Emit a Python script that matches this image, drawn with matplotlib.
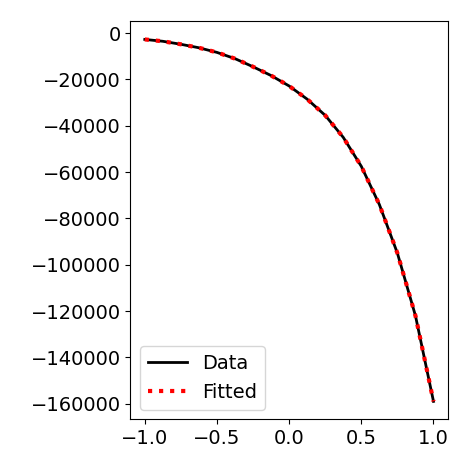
import numpy as np
import matplotlib.pyplot as plt

x_vals = [-1.0, -0.875, -0.75, -0.625, -0.5, -0.375, -0.25, -0.125, 0.0,
          0.125, 0.25, 0.375, 0.5, 0.625, 0.75, 0.875, 1.0]
y_vals = [-2700, -3500, -4800, -6300, -8300, -11000, -14500, -18300, -22800,
          -28500, -35500, -45000, -57500, -74000, -95000, -122000, -159000]

plt.rcParams['font.size'] = 14
fig = plt.figure(figsize=(4.74, 4.74), dpi=100)
ax = fig.add_axes([0.275, 0.115, 0.67, 0.84])
ax.plot(x_vals, y_vals, color='black', lw=2, label='Data')
ax.plot(x_vals, y_vals, color='red', lw=3, ls=':', label='Fitted')
ax.set_xticks([-1.0, -0.5, 0.0, 0.5, 1.0])
ax.set_yticks(np.arange(-160000, 1, 20000))
ax.legend(loc='lower left')
fig.savefig('out.png', dpi=100)
